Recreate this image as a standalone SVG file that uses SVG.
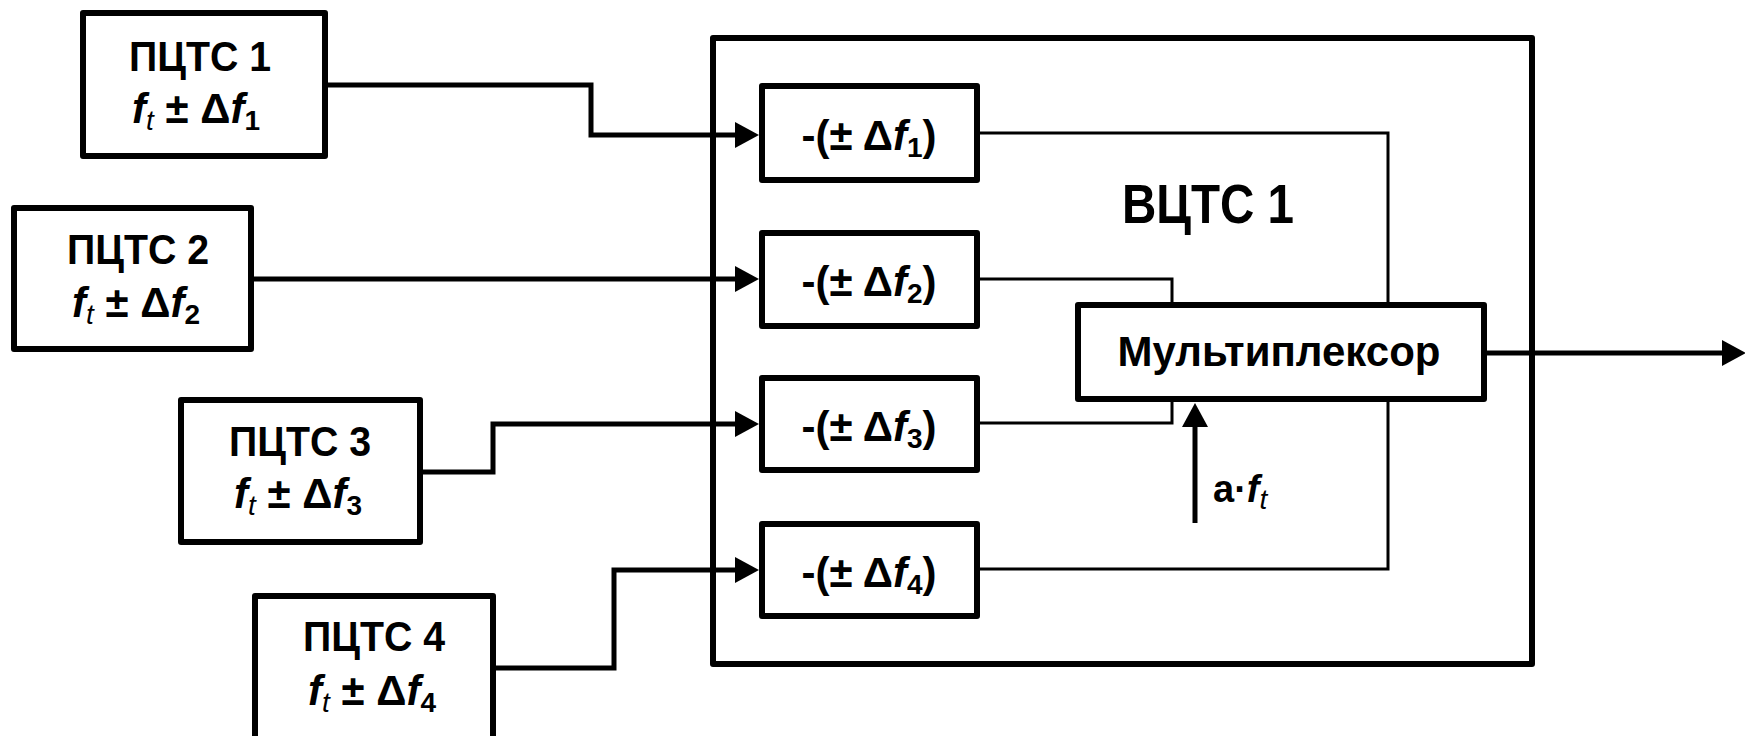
<svg xmlns="http://www.w3.org/2000/svg" width="1745" height="736" viewBox="0 0 1745 736">
<style>
.box{fill:#fff;stroke:#000;stroke-width:6;stroke-linejoin:round}
.thick{fill:none;stroke:#000;stroke-width:5}
.thin{fill:none;stroke:#000;stroke-width:3}
text{font-family:"Liberation Sans",Arial,sans-serif;font-weight:bold;fill:#000}
.lbl{font-size:42px;text-anchor:middle}
.f{font-size:42px;text-anchor:middle}
.it{font-style:italic}
.sub{font-size:28px}
.subn{font-size:28px;font-style:italic;font-weight:normal}
</style>
<defs>
<marker id="ah" markerUnits="userSpaceOnUse" viewBox="0 0 24 26" refX="0" refY="13" markerWidth="24" markerHeight="26" orient="auto"><path d="M0,0 L24,13 L0,26 z" fill="#000"/></marker>
</defs>
<g id="vcts1">
<rect class="box" x="713" y="38" width="819" height="626"/>
<text x="1208" y="223" font-size="55" text-anchor="middle" textLength="172" lengthAdjust="spacingAndGlyphs">ВЦТС 1</text>
</g>
<g id="connectors">
<path class="thick" d="M327 85 H591 V135 H735" marker-end="url(#ah)"/>
<path class="thick" d="M254 279 H735" marker-end="url(#ah)"/>
<path class="thick" d="M423 472 H493 V424 H735" marker-end="url(#ah)"/>
<path class="thick" d="M496 668 H614 V570 H735" marker-end="url(#ah)"/>
<path class="thin" d="M980 133 H1388 V305"/>
<path class="thin" d="M980 279 H1172 V305"/>
<path class="thin" d="M980 423 H1172 V399"/>
<path class="thin" d="M980 569 H1388 V399"/>
<path class="thick" d="M1487 353 H1722" marker-end="url(#ah)"/>
<path class="thick" d="M1195 523 V427" stroke-width="4" marker-end="url(#ah)"/>
<text x="1213" y="502" font-size="38">a·<tspan class="it">f</tspan><tspan class="subn" dy="7">t</tspan></text>
</g>
<g id="p1">
<rect class="box" x="83" y="13" width="242" height="143"/>
<text class="lbl" x="200" y="71" textLength="142" lengthAdjust="spacingAndGlyphs">ПЦТС 1</text>
<text class="f" x="196" y="123"><tspan class="it">f</tspan><tspan class="subn" dy="7">t</tspan><tspan dy="-7"> ± Δ</tspan><tspan class="it">f</tspan><tspan class="sub" dy="7">1</tspan></text>
</g>
<g id="p2">
<rect class="box" x="14" y="208" width="237" height="141"/>
<text class="lbl" x="138" y="264" textLength="142" lengthAdjust="spacingAndGlyphs">ПЦТС 2</text>
<text class="f" x="136" y="317"><tspan class="it">f</tspan><tspan class="subn" dy="7">t</tspan><tspan dy="-7"> ± Δ</tspan><tspan class="it">f</tspan><tspan class="sub" dy="7">2</tspan></text>
</g>
<g id="p3">
<rect class="box" x="181" y="400" width="239" height="142"/>
<text class="lbl" x="300" y="456" textLength="142" lengthAdjust="spacingAndGlyphs">ПЦТС 3</text>
<text class="f" x="298" y="508"><tspan class="it">f</tspan><tspan class="subn" dy="7">t</tspan><tspan dy="-7"> ± Δ</tspan><tspan class="it">f</tspan><tspan class="sub" dy="7">3</tspan></text>
</g>
<g id="p4">
<rect class="box" x="255" y="596" width="238" height="150"/>
<text class="lbl" x="374" y="651" textLength="142" lengthAdjust="spacingAndGlyphs">ПЦТС 4</text>
<text class="f" x="372" y="705"><tspan class="it">f</tspan><tspan class="subn" dy="7">t</tspan><tspan dy="-7"> ± Δ</tspan><tspan class="it">f</tspan><tspan class="sub" dy="7">4</tspan></text>
</g>
<g id="b1">
<rect class="box" x="762" y="86" width="215" height="94"/>
<text class="f" x="869" y="150" font-size="40">-(± Δ<tspan class="it">f</tspan><tspan class="sub" dy="7">1</tspan><tspan dy="-7">)</tspan></text>
</g>
<g id="b2">
<rect class="box" x="762" y="233" width="215" height="93"/>
<text class="f" x="869" y="296" font-size="40">-(± Δ<tspan class="it">f</tspan><tspan class="sub" dy="7">2</tspan><tspan dy="-7">)</tspan></text>
</g>
<g id="b3">
<rect class="box" x="762" y="378" width="215" height="92"/>
<text class="f" x="869" y="441" font-size="40">-(± Δ<tspan class="it">f</tspan><tspan class="sub" dy="7">3</tspan><tspan dy="-7">)</tspan></text>
</g>
<g id="b4">
<rect class="box" x="762" y="524" width="215" height="92"/>
<text class="f" x="869" y="587" font-size="40">-(± Δ<tspan class="it">f</tspan><tspan class="sub" dy="7">4</tspan><tspan dy="-7">)</tspan></text>
</g>
<g id="mux">
<rect class="box" x="1078" y="305" width="406" height="94"/>
<text x="1279" y="366" font-size="42" text-anchor="middle">Мультиплексор</text>
</g>
</svg>
